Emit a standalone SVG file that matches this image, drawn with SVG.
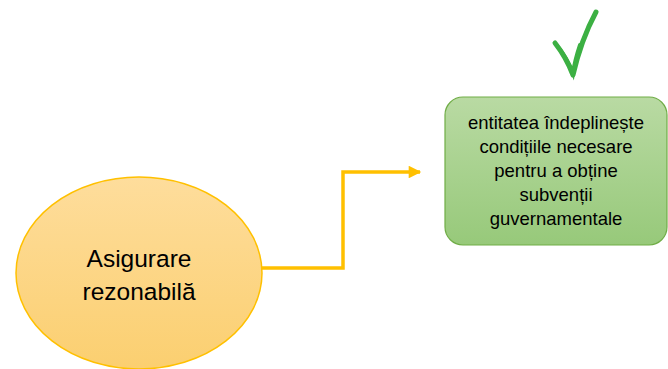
<svg xmlns="http://www.w3.org/2000/svg" width="668" height="369" viewBox="0 0 668 369">
<defs>
<linearGradient id="gOr" x1="0" y1="0" x2="0" y2="1"><stop offset="0" stop-color="#fedd9c"/><stop offset="1" stop-color="#fbcf70"/></linearGradient>
<linearGradient id="gGr" x1="0" y1="0" x2="0" y2="1"><stop offset="0" stop-color="#b9daa3"/><stop offset="1" stop-color="#97c97a"/></linearGradient>
<marker id="arr" viewBox="0 0 10 10" refX="9" refY="5" markerWidth="4" markerHeight="3.6" orient="auto" markerUnits="strokeWidth"><path d="M0,0 L10,5 L0,10 z" fill="#ffc000"/></marker>
<style>
.t{font-family:"Liberation Sans",Arial,sans-serif;fill:#000;text-anchor:middle}
</style>
</defs>
<g id="connectors">
<path d="M262,268 H343 V172 H420" fill="none" stroke="#ffc000" stroke-width="3.5" marker-end="url(#arr)"/>
</g>
<g id="node-asigurare">
<ellipse cx="139" cy="273" rx="123" ry="96" fill="url(#gOr)" stroke="#ffc000" stroke-width="1.5"/>
<text class="t" font-size="24.5" x="139" y="267">Asigurare</text>
<text class="t" font-size="24.5" x="139" y="300">rezonabilă</text>
</g>
<g id="node-entitatea">
<rect x="445" y="97" width="222" height="148" rx="18" fill="url(#gGr)" stroke="#70ad47" stroke-width="1.2"/>
<text class="t" font-size="18.5" x="556" y="129">entitatea îndeplinește</text>
<text class="t" font-size="18.5" x="556" y="153">condițiile necesare</text>
<text class="t" font-size="18.5" x="556" y="177">pentru a obține</text>
<text class="t" font-size="18.5" x="556" y="201">subvenții</text>
<text class="t" font-size="18.5" x="556" y="225">guvernamentale</text>
</g>
<g id="checkmark">
<path d="M555,43 Q566,57 573,75 Q581,40 596,12" fill="none" stroke="#3cb043" stroke-width="5" stroke-linecap="round" stroke-linejoin="round"/>
<path d="M558,47 Q567,58 573,73 Q575,60 580,45" fill="none" stroke="#3cb043" stroke-width="4" stroke-linecap="round"/>
</g>
</svg>
